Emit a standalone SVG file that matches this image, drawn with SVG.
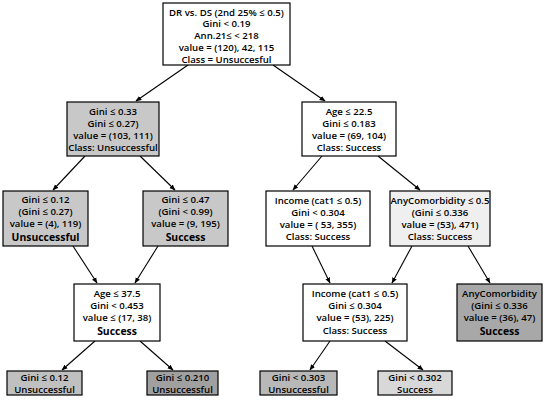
<svg xmlns="http://www.w3.org/2000/svg" width="550" height="400" viewBox="0 0 550 400">
<style>
.box{stroke:#000;stroke-width:1.2}
text{font-family:"Open Sans","Noto Sans",sans-serif;font-size:9.6px;text-anchor:middle;fill:#000;font-weight:600}
.b{font-weight:700;font-size:10.4px}
.e{stroke:#000;stroke-width:1.1;fill:none;marker-end:url(#ah)}
</style>
<defs>
<marker id="ah" viewBox="0 0 10 10" refX="9" refY="5" markerWidth="6" markerHeight="6" orient="auto" markerUnits="userSpaceOnUse">
<path d="M0,1 L10,5 L0,9 z" fill="#000"/>
</marker>
</defs>
<rect width="550" height="400" fill="#fff"/>
<g id="edges">
<line class="e" x1="188" y1="65" x2="136" y2="101"/>
<line class="e" x1="273" y1="65" x2="325" y2="101"/>
<line class="e" x1="85" y1="156" x2="53" y2="190"/>
<line class="e" x1="140" y1="156" x2="175" y2="190"/>
<line class="e" x1="322" y1="156" x2="293" y2="190"/>
<line class="e" x1="378" y1="156" x2="420" y2="190"/>
<line class="e" x1="73" y1="246" x2="97" y2="283"/>
<line class="e" x1="158" y1="246" x2="135" y2="283"/>
<line class="e" x1="312" y1="246" x2="330" y2="283"/>
<line class="e" x1="412" y1="246" x2="392" y2="283"/>
<line class="e" x1="468" y1="246" x2="490" y2="283"/>
<line class="e" x1="95" y1="341" x2="62" y2="370"/>
<line class="e" x1="140" y1="341" x2="173" y2="370"/>
<line class="e" x1="330" y1="341" x2="310" y2="370"/>
<line class="e" x1="385" y1="341" x2="423" y2="370"/>
</g>
<g id="root">
<rect class="box" x="163" y="3" width="127" height="62" fill="#fff"/>
<text x="226.5" y="15.5">DR vs. DS (2nd 25% ≤ 0.5)</text>
<text x="226.5" y="27.3">Gini &lt; 0.19</text>
<text x="226.5" y="39.1">Ann.21≤ &lt; 218</text>
<text x="226.5" y="50.9">value = (120), 42, 115</text>
<text x="226.5" y="62.5">Class = Unsuccesful</text>
</g>
<g id="n_l1">
<rect class="box" x="67" y="102" width="92" height="54" fill="#c8c8c8"/>
<text x="113" y="115">Gini ≤ 0.33</text>
<text x="113" y="127">Gini ≤ 0.27)</text>
<text x="113" y="139">value = (103, 111)</text>
<text x="113" y="151">Class: Unsuccessful</text>
</g>
<g id="n_r1">
<rect class="box" x="302" y="102" width="94" height="54" fill="#fff"/>
<text x="349" y="115">Age ≤ 22.5</text>
<text x="349" y="127">Gini ≤ 0.183</text>
<text x="349" y="139">value = (69, 104)</text>
<text x="349" y="151">Class: Success</text>
</g>
<g id="n_l2a">
<rect class="box" x="3" y="191" width="85" height="55" fill="#c8c8c8"/>
<text x="45.5" y="203">Gini ≤ 0.12</text>
<text x="45.5" y="215">(Gini ≤ 0.27)</text>
<text x="45.5" y="227">value = (4), 119)</text>
<text class="b" x="45.5" y="241">Unsuccessful</text>
</g>
<g id="n_l2b">
<rect class="box" x="143" y="191" width="85" height="55" fill="#c8c8c8"/>
<text x="185.5" y="203">Gini ≤ 0.47</text>
<text x="185.5" y="215">(Gini &lt; 0.99)</text>
<text x="185.5" y="227">value = (9, 195)</text>
<text class="b" x="185.5" y="241">Success</text>
</g>
<g id="n_r2a">
<rect class="box" x="266" y="191" width="104" height="55" fill="#fff"/>
<text x="318" y="204">Income (cat1 ≤ 0.5)</text>
<text x="318" y="216">Gini &lt; 0.304</text>
<text x="318" y="228">value = ( 53, 355)</text>
<text x="318" y="240">Class: Success</text>
</g>
<g id="n_r2b">
<rect class="box" x="390" y="191" width="100" height="55" fill="#efefef"/>
<text x="440" y="204">AnyComorbidity ≤ 0.5</text>
<text x="440" y="216">(Gini ≤ 0.336</text>
<text x="440" y="228">value = (53), 471)</text>
<text x="440" y="240">Class: Success</text>
</g>
<g id="n_l3">
<rect class="box" x="74" y="284" width="86" height="57" fill="#fff"/>
<text x="117" y="297">Age ≤ 37.5</text>
<text x="117" y="309">Gini &lt; 0.453</text>
<text x="117" y="321">value ≤ (17, 38)</text>
<text class="b" x="117" y="335">Success</text>
</g>
<g id="n_r3a">
<rect class="box" x="303" y="284" width="104" height="57" fill="#fff"/>
<text x="355" y="297">Income (cat1 ≤ 0.5)</text>
<text x="355" y="309">Gini ≤ 0.304</text>
<text x="355" y="321">value = (53), 225)</text>
<text x="355" y="334">Class: Success</text>
</g>
<g id="n_r3b">
<rect class="box" x="457" y="284" width="85" height="57" fill="#a8a8a8"/>
<text x="499.5" y="297">AnyComorbidity</text>
<text x="499.5" y="309">(Gini ≤ 0.336</text>
<text x="499.5" y="321">value = (36), 47)</text>
<text class="b" x="499.5" y="335">Success</text>
</g>
<g id="n_l4a">
<rect class="box" x="7" y="371" width="75" height="24" fill="#c0c0c0"/>
<text x="44.5" y="381">Gini ≤ 0.12</text>
<text x="44.5" y="393">Unsuccessful</text>
</g>
<g id="n_l4b">
<rect class="box" x="147" y="371" width="71" height="24" fill="#a0a0a0"/>
<text x="182.5" y="381">Gini ≤ 0.210</text>
<text x="182.5" y="393">Unsuccessful</text>
</g>
<g id="n_r4a">
<rect class="box" x="260" y="371" width="77" height="24" fill="#b8b8b8"/>
<text x="298.5" y="381">Gini &lt; 0.303</text>
<text x="298.5" y="393">Unsuccessful</text>
</g>
<g id="n_r4b">
<rect class="box" x="378" y="371" width="74" height="24" fill="#d8d8d8"/>
<text x="415" y="381">Gini &lt; 0.302</text>
<text x="415" y="393">Success</text>
</g>
</svg>
